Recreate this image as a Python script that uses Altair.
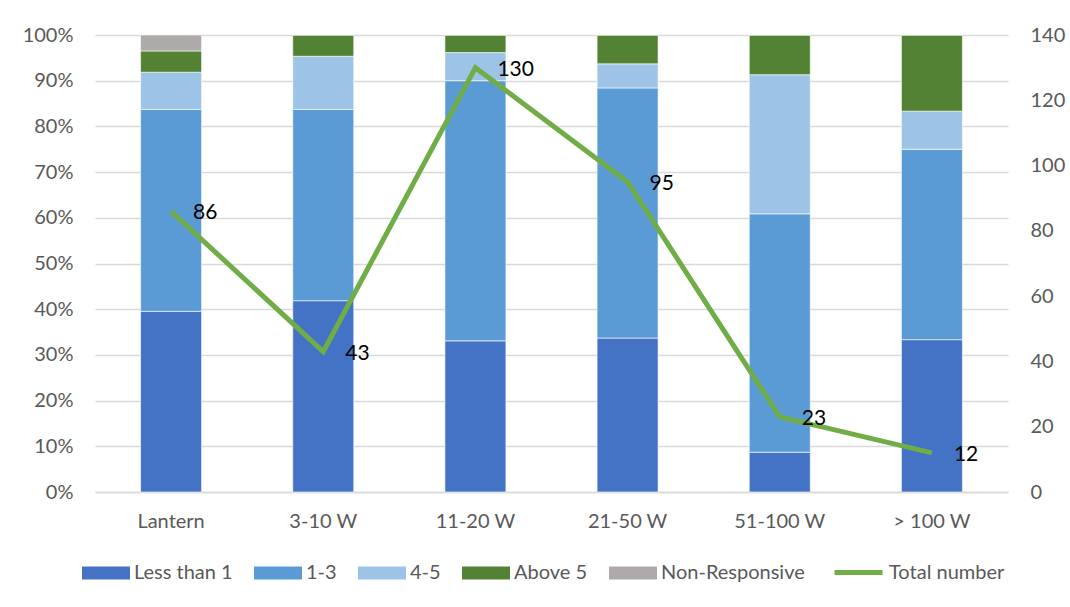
import altair as alt
import pandas as pd

# Wattage classes on the x axis
categories = ["Lantern", "3-10 W", "11-20 W", "21-50 W", "51-100 W", "> 100 W"]

# Respondent counts per answer group (stacked to 100% per class)
less_than_1 = [34, 18, 43, 32, 2, 4]
one_to_three = [38, 18, 74, 52, 12, 5]
four_to_five = [7, 5, 8, 5, 7, 1]
above_5 = [4, 2, 5, 6, 2, 2]
non_responsive = [3, 0, 0, 0, 0, 0]

# Total respondents per class (right axis)
total_number = [86, 43, 130, 95, 23, 12]

series_names = ["Less than 1", "1-3", "4-5", "Above 5", "Non-Responsive"]
series_colors = ["#4472c4", "#5b9bd5", "#9dc3e6", "#548235", "#aeaaaa"]
series_values = [less_than_1, one_to_three, four_to_five, above_5, non_responsive]

rows = []
for idx, (name, vals) in enumerate(zip(series_names, series_values)):
    for cat, v in zip(categories, vals):
        rows.append({"category": cat, "series": name, "count": v, "order": idx})
bar_df = pd.DataFrame(rows)

tot_df = pd.DataFrame({"category": categories, "total": total_number,
                       "series": ["Total number"] * len(categories)})

FONT = "Lato"
FONT_SIZE = 20
LABEL_COLOR = "#595959"
GRID_COLOR = "#d9d9d9"

x_enc = alt.X(
    "category:N",
    sort=categories,
    scale=alt.Scale(paddingInner=0, paddingOuter=0),
    axis=alt.Axis(title=None, labelAngle=0, labelFontSize=FONT_SIZE, labelFont=FONT,
                  labelColor=LABEL_COLOR, ticks=False, domain=True,
                  domainColor=GRID_COLOR, domainWidth=1.5, labelPadding=19),
)

bars = alt.Chart(bar_df).mark_bar(size=61, stroke="white", strokeWidth=0.6).encode(
    x=x_enc,
    y=alt.Y(
        "count:Q",
        stack="normalize",
        scale=alt.Scale(domain=[0, 1]),
        axis=alt.Axis(title=None, format=".0%", values=[i / 10 for i in range(11)],
                      labelFontSize=FONT_SIZE, labelFont=FONT, labelColor=LABEL_COLOR,
                      ticks=False, domain=False, grid=True, gridColor=GRID_COLOR,
                      gridWidth=1.5, labelPadding=22),
    ),
    fill=alt.Fill(
        "series:N",
        sort=series_names,
        scale=alt.Scale(domain=series_names, range=series_colors),
        legend=alt.Legend(
            title=None, orient="none", direction="horizontal",
            legendX=-13, legendY=514,
            symbolType="M-1,-0.27H1V0.27H-1Z", symbolSize=2304,
            symbolStrokeWidth=0, symbolOpacity=1,
            labelFont=FONT, labelFontSize=FONT_SIZE, labelColor=LABEL_COLOR,
            labelOffset=4, columnPadding=21,
        ),
    ),
    order=alt.Order("order:Q", sort="ascending"),
)

y_right = alt.Y(
    "total:Q",
    scale=alt.Scale(domain=[0, 140]),
    axis=alt.Axis(title=None, orient="right", values=list(range(0, 141, 20)),
                  labelFontSize=FONT_SIZE, labelFont=FONT, labelColor=LABEL_COLOR,
                  ticks=False, domain=False, grid=False, labelPadding=22),
)

line = alt.Chart(tot_df).mark_line(strokeWidth=5).encode(
    x=x_enc,
    y=y_right,
    stroke=alt.Stroke(
        "series:N",
        scale=alt.Scale(domain=["Total number"], range=["#70ad47"]),
        legend=alt.Legend(
            title=None, orient="none", direction="horizontal",
            legendX=737, legendY=511,
            symbolType="stroke", symbolSize=2304, symbolStrokeWidth=5,
            labelFont=FONT, labelFontSize=FONT_SIZE, labelColor=LABEL_COLOR,
            labelOffset=4,
        ),
    ),
)

labels = alt.Chart(tot_df).mark_text(
    align="left", baseline="middle", dx=22, dy=2, fontSize=21, font=FONT, color="black"
).encode(
    x=x_enc,
    y=alt.Y("total:Q", scale=alt.Scale(domain=[0, 140]), axis=None),
    text="total:Q",
)

chart = alt.layer(bars, line, labels).resolve_scale(
    y="independent", fill="independent", stroke="independent"
).properties(
    width=913,
    height=457,
    autosize=alt.AutoSizeParams(type="none"),
    padding={"left": 95, "top": 35, "right": 62, "bottom": 115},
    background="white",
).configure_view(stroke=None)

chart.save("out.html", embed_options={"renderer": "svg", "actions": False})
